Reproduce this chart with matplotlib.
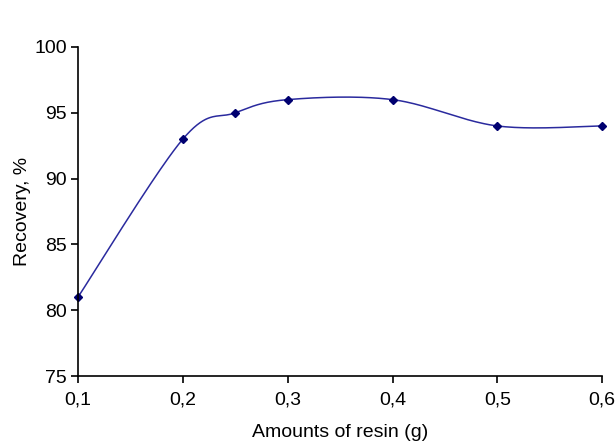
import numpy as np
import matplotlib
matplotlib.use('Agg')
import matplotlib.pyplot as plt

plt.rcParams['font.family'] = ['Liberation Sans', 'DejaVu Sans']

resin = [0.1, 0.2, 0.25, 0.3, 0.4, 0.5, 0.6]
recovery = [81, 93, 95, 96, 96, 94, 94]


def excel_smooth(x, y, n=40):
    # bezier segments with catmull-rom style control points, like excel smoothed lines
    p = np.column_stack([x, y]).astype(float)
    pts = np.vstack([p[0], p, p[-1]])
    out = []
    for i in range(1, len(pts) - 2):
        p0, p1, p2, p3 = pts[i - 1], pts[i], pts[i + 1], pts[i + 2]
        c1 = p1 + (p2 - p0) / 6
        c2 = p2 - (p3 - p1) / 6
        t = np.linspace(0, 1, n)[:, None]
        seg = (1 - t) ** 3 * p1 + 3 * (1 - t) ** 2 * t * c1 + 3 * (1 - t) * t ** 2 * c2 + t ** 3 * p2
        out.append(seg)
    out = np.vstack(out)
    return out[:, 0], out[:, 1]


fig = plt.figure(figsize=(6.16, 4.43), dpi=100)
ax = fig.add_axes([0.1266, 0.151, 0.851, 0.743])

sx, sy = excel_smooth(resin, recovery)
ax.plot(sx, sy, color='#2a2a9e', lw=1.1, clip_on=False)
ax.plot(resin, recovery, ls='none', marker='D', ms=4.5, color='#000070', clip_on=False)

ax.set_xlim(0.1, 0.6)
ax.set_ylim(75, 100)
ax.set_xticks([0.1, 0.2, 0.3, 0.4, 0.5, 0.6])
ax.set_xticklabels(['0,1', '0,2', '0,3', '0,4', '0,5', '0,6'])
ax.set_yticks([75, 80, 85, 90, 95, 100])

for s in ['top', 'right']:
    ax.spines[s].set_visible(False)
ax.spines['left'].set_linewidth(1.2)
ax.spines['bottom'].set_linewidth(1.2)
ax.tick_params(direction='out', length=5, width=1.2, labelsize=14, colors='black')
ax.tick_params(axis='x', pad=6)
ax.tick_params(axis='y', pad=3)

ax.set_xlabel('Amounts of resin (g)', fontsize=14, labelpad=11)
ax.set_ylabel('Recovery, %', fontsize=14, labelpad=2)

plt.savefig('out.png', dpi=100)
